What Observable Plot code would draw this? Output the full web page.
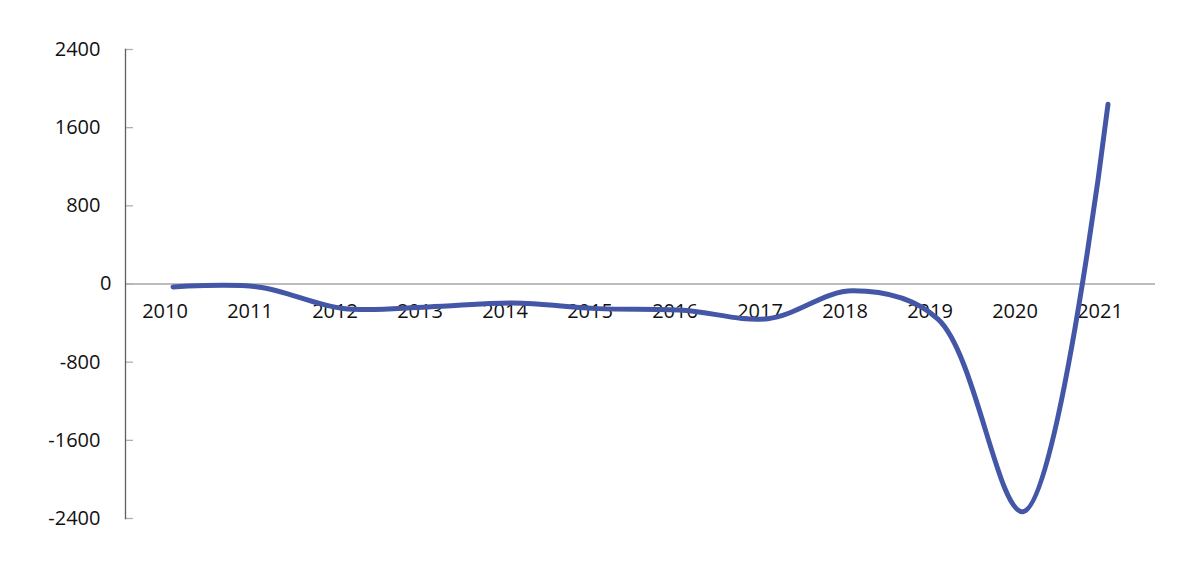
<!DOCTYPE html>
<html>
<head>
<meta charset="utf-8">
<script src="https://cdn.jsdelivr.net/npm/d3@7"></script>
<script src="https://cdn.jsdelivr.net/npm/@observablehq/plot@0.6"></script>
<style>
  html, body { margin: 0; padding: 0; background: #fff; }
  #chart { width: 1200px; height: 569px; }
  svg { font-family: "Open Sans", sans-serif; }
</style>
</head>
<body>
<div id="chart"></div>
<script>
const years = ["2010","2011","2012","2013","2014","2015","2016","2017","2018","2019","2020","2021"];
const values = [-30, -30, -250, -235, -195, -252, -268, -355, -70, -360, -2330, 1840];
const yTicks = [-2400, -1600, -800, 0, 800, 1600, 2400];
const yTicksNonZero = yTicks.filter(d => d !== 0);

const data = years.map((y, i) => ({year: y, value: values[i]}));
const fmt = d => String(d);

const chart = Plot.plot({
  width: 1200,
  height: 569,
  marginLeft: 125,
  marginRight: 45,
  marginTop: 49,
  marginBottom: 51,
  style: {fontFamily: "Open Sans, sans-serif", fontSize: "20px", color: "#111", background: "#fff"},
  x: {type: "band", domain: years, padding: 0, axis: null},
  y: {domain: [-2400, 2400], axis: null},
  marks: [
    Plot.ruleY([0], {stroke: "#a6a6a6", strokeWidth: 1.3}),
    Plot.axisY({ticks: yTicks, text: null, tickSize: -8, stroke: "#b0b0b0", strokeWidth: 1.3, label: null}),
    Plot.frame({anchor: "left", stroke: "#5f5f5f", strokeWidth: 1.3}),
    Plot.axisY({ticks: yTicksNonZero, tickFormat: fmt, tickSize: 0, tickPadding: 25, fontSize: 20, fill: "#111", label: null}),
    Plot.axisY({ticks: [0], tickFormat: fmt, tickSize: 0, tickPadding: 14, fontSize: 20, fill: "#111", label: null}),
    Plot.text(data, {x: "year", y: () => 0, text: "year", dy: 28, dx: -8, fontSize: 20, fill: "#111"}),
    Plot.line(data, {x: "year", y: "value", curve: "catmull-rom", stroke: "#4457a7", strokeWidth: 5, strokeLinecap: "round"})
  ]
});
document.getElementById("chart").appendChild(chart);
</script>
</body>
</html>
